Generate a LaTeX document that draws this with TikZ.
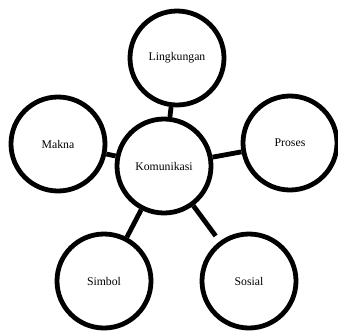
\documentclass[tikz,border=0pt]{standalone}
\usepackage{fontspec}
\setmainfont{Liberation Serif}

\begin{document}
\begin{tikzpicture}[x=0.75pt,y=-0.75pt]
  \tikzset{%
    bubble/.style={circle,draw,line width=3.6pt,minimum size=70.5pt,
      inner sep=0pt,font=\fontsize{8.8}{10}\selectfont},%
    link/.style={line width=3.6pt}%
  }
  \useasboundingbox (0,0) rectangle (338,333);%
  \begin{scope}
    \node[bubble] (komunikasi) at (164,166) {Komunikasi};%
    \node[bubble] (lingkungan) at (177,58) {Lingkungan};%
    \node[bubble] (makna) at (58,144) {Makna};%
    \node[bubble] (proses) at (290,143) {Proses};%
    \node[bubble] (simbol) at (104,281) {Simbol};%
    \node[bubble] (sosial) at (249,281) {Sosial};%
    \foreach \n in {lingkungan,makna,proses,simbol}%
    \draw[link] (komunikasi) -- (\n);%
    \draw[link,shorten >=5pt] (komunikasi) -- (sosial);%
  \end{scope}
\end{tikzpicture}
\end{document}
